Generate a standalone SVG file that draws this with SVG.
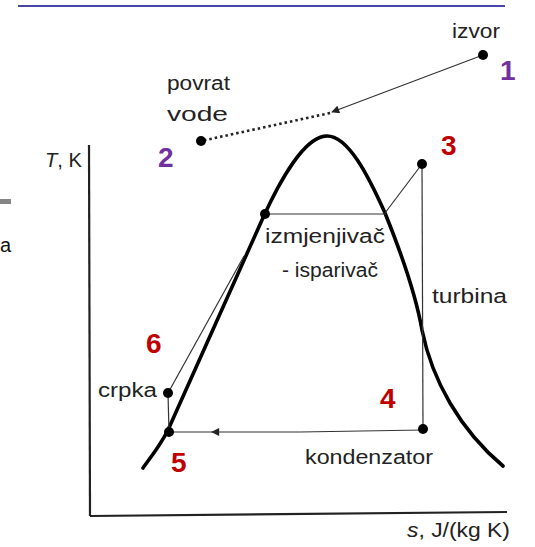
<svg xmlns="http://www.w3.org/2000/svg" width="535" height="547" viewBox="0 0 535 547">
<style>
.lbl{font-family:"Liberation Sans Narrow","Liberation Sans",Arial,sans-serif;font-size:20px;fill:#222}
.num{font-family:"Liberation Sans",Arial,sans-serif;font-size:28px;font-weight:bold}
.pur{fill:#7030A0}
.red{fill:#C00000}
.thin{stroke:#333;stroke-width:1.2;fill:none}
.axis{stroke:#222;stroke-width:2.2;fill:none}
.dot{fill:#000}
</style>
<defs>
<marker id="arr" viewBox="0 0 10 10" refX="9" refY="5" markerWidth="10" markerHeight="8" markerUnits="userSpaceOnUse" orient="auto">
<path d="M0,0 L10,5 L0,10 Z" fill="#222"/>
</marker>
</defs>
<rect width="535" height="547" fill="#fff"/>
<line x1="18" y1="6" x2="505" y2="6" stroke="#4646a8" stroke-width="2"/>
<rect x="0" y="199" width="11" height="5" fill="#666" opacity="0.8"/>
<text x="0" y="252" font-family="Liberation Sans,Arial,sans-serif" font-size="20" fill="#111">a</text>
<g id="axes">
<path class="axis" d="M89,145 L90,516"/>
<path class="axis" d="M90,516 L507,512"/>
<text x="45" y="167" class="lbl" textLength="37" lengthAdjust="spacingAndGlyphs"><tspan font-style="italic">T</tspan>, K</text>
<text x="407" y="537" class="lbl" font-size="21" textLength="103" lengthAdjust="spacingAndGlyphs"><tspan font-style="italic">s</tspan>, J/(kg K)</text>
</g>
<g id="dome">
<path d="M143,468 C150,458 160,446 168,430 L262,220 C280,180 305,136 327,136 C348,136 368,175 385,213 C400,250 415,290 422,330 C432,380 460,430 503,466" fill="none" stroke="#000" stroke-width="3.6" stroke-linecap="round"/>
</g>
<g id="connectors">
<line class="thin" x1="483" y1="55" x2="332" y2="112" marker-end="url(#arr)"/>
<line x1="330" y1="113" x2="201" y2="141" stroke="#222" stroke-width="2.6" stroke-dasharray="2.5,3"/>
<line class="thin" x1="422" y1="164" x2="385" y2="213"/>
<line class="thin" x1="265" y1="214" x2="386" y2="214"/>
<line class="thin" x1="422" y1="164" x2="423" y2="429"/>
<line class="thin" x1="423" y1="430" x2="300" y2="432"/>
<line class="thin" x1="300" y1="432" x2="212" y2="432" marker-end="url(#arr)"/>
<line class="thin" x1="215" y1="432" x2="169" y2="432"/>
<line class="thin" x1="169" y1="432" x2="168" y2="393"/>
<line class="thin" x1="168" y1="393" x2="244" y2="256"/>
</g>
<g id="p1"><circle class="dot" cx="483" cy="55" r="5"/><text x="452" y="38" class="lbl" textLength="48" lengthAdjust="spacingAndGlyphs">izvor</text><text x="500" y="80" class="num pur">1</text></g>
<g id="p2"><circle class="dot" cx="201" cy="141" r="5"/><text x="167" y="90" class="lbl" textLength="63" lengthAdjust="spacingAndGlyphs">povrat</text><text x="167" y="121" class="lbl" textLength="61" lengthAdjust="spacingAndGlyphs">vode</text><text x="158" y="167" class="num pur">2</text></g>
<g id="p3"><circle class="dot" cx="422" cy="164" r="5"/><text x="441" y="155" class="num red">3</text></g>
<g id="isparivac"><circle class="dot" cx="265" cy="214" r="5"/><text x="265" y="243" class="lbl" textLength="120" lengthAdjust="spacingAndGlyphs">izmjenjivač</text><text x="282" y="277" class="lbl" textLength="96" lengthAdjust="spacingAndGlyphs">- isparivač</text></g>
<g id="turbina"><text x="432" y="303" class="lbl" textLength="75" lengthAdjust="spacingAndGlyphs">turbina</text></g>
<g id="p4"><circle class="dot" cx="423" cy="429" r="5"/><text x="380" y="408" class="num red">4</text><text x="305" y="464" class="lbl" textLength="128" lengthAdjust="spacingAndGlyphs">kondenzator</text></g>
<g id="p5"><circle class="dot" cx="169" cy="432" r="5"/><text x="171" y="472" class="num red">5</text></g>
<g id="p6"><circle class="dot" cx="168" cy="393" r="5"/><text x="98" y="397" class="lbl" textLength="59" lengthAdjust="spacingAndGlyphs">crpka</text><text x="146" y="353" class="num red">6</text></g>
</svg>
